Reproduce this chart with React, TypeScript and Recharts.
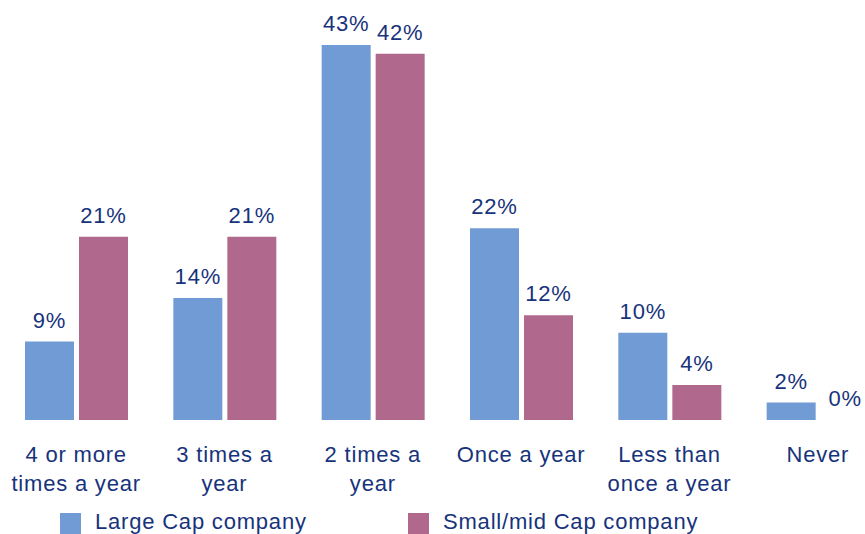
import React from "react";
import { BarChart, Bar, XAxis, YAxis, LabelList } from "recharts";

const categories = [
  ["4 or more", "times a year"],
  ["3 times a", "year"],
  ["2 times a", "year"],
  ["Once a year"],
  ["Less than", "once a year"],
  ["Never"],
];
const largeCap = [9, 14, 43, 22, 10, 2];
const smallMidCap = [21, 21, 42, 12, 4, 0];
const seriesNames = ["Large Cap company", "Small/mid Cap company"];

const BLUE = "#709bd5";
const PINK = "#b0698d";
const TEXT = "#17337c";
const FONT = "'Liberation Sans', Arial, sans-serif";
const FS = 22;
const LS = 0.8;

const data = categories.map((lines, i) => ({
  name: lines.join(" "),
  large: largeCap[i],
  small: smallMidCap[i],
}));

function CategoryTick({ x, y, payload, index }: any) {
  const lines = categories[index] || [payload.value];
  return (
    <text
      x={x}
      y={y}
      textAnchor="middle"
      fill={TEXT}
      fontSize={FS}
      fontFamily={FONT}
      letterSpacing={LS}
    >
      {lines.map((l, i) => (
        <tspan key={i} x={x} dy={i === 0 ? 34 : 29}>
          {l}
        </tspan>
      ))}
    </text>
  );
}

function ValueLabel({ x, y, width, value }: any) {
  if (value === undefined || value === null) return null;
  return (
    <text
      x={x + width / 2}
      y={y - 14}
      textAnchor="middle"
      fill={TEXT}
      fontSize={FS}
      fontFamily={FONT}
      letterSpacing={LS}
    >
      {`${value}%`}
    </text>
  );
}

export default function App() {
  return (
    <div
      style={{
        position: "fixed",
        left: 0,
        top: 0,
        width: 865,
        height: 534,
        overflow: "hidden",
        background: "#fff",
        fontFamily: FONT,
      }}
    >
      <BarChart
        width={892}
        height={534}
        data={data}
        margin={{ top: 45, right: 0, left: 2, bottom: 0 }}
        barGap={5}
      >
        <XAxis
          dataKey="name"
          axisLine={false}
          tickLine={false}
          height={114}
          interval={0}
          tick={<CategoryTick />}
        />
        <YAxis hide domain={[0, 43]} />
        <Bar
          dataKey="large"
          fill={BLUE}
          barSize={49}
          minPointSize={0.01}
          isAnimationActive={false}
        >
          <LabelList dataKey="large" content={<ValueLabel />} />
        </Bar>
        <Bar
          dataKey="small"
          fill={PINK}
          barSize={49}
          minPointSize={0.01}
          isAnimationActive={false}
        >
          <LabelList dataKey="small" content={<ValueLabel />} />
        </Bar>
      </BarChart>
      {[BLUE, PINK].map((c, i) => (
        <div
          key={i}
          style={{
            position: "absolute",
            left: i === 0 ? 60 : 408,
            top: 509,
            display: "flex",
            alignItems: "center",
            color: TEXT,
            fontSize: FS,
            letterSpacing: LS,
            whiteSpace: "nowrap",
          }}
        >
          <span
            style={{
              display: "inline-block",
              width: 21,
              height: 21,
              background: c,
              marginRight: 14,
              marginTop: 3,
            }}
          />
          <span>{seriesNames[i]}</span>
        </div>
      ))}
    </div>
  );
}
